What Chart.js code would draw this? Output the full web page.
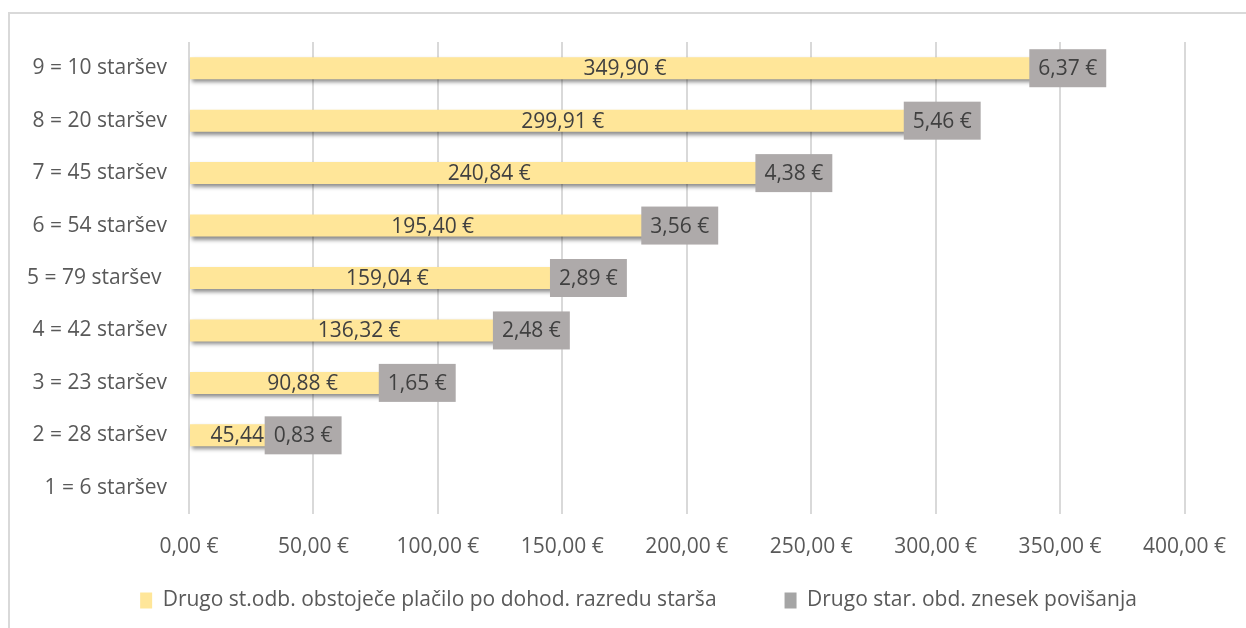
<!DOCTYPE html>
<html>
<head>
<meta charset="utf-8">
<script src="https://cdn.jsdelivr.net/npm/chart.js@4/dist/chart.umd.min.js"></script>
<style>
  body { margin: 0; background: #fff; }
  #frame { position: absolute; left: 8px; top: 12px; width: 1300px; height: 700px;
           border-left: 2px solid #d9d9d9; border-top: 2px solid #d9d9d9; }
  #wrap { position: absolute; left: 0; top: 0; width: 1246px; height: 628px; }
</style>
</head>
<body>
<div id="frame"></div>
<div id="wrap"><canvas id="barChart"></canvas></div>
<script>
// categories, top to bottom
var categories = ['9 = 10 staršev', '8 = 20 staršev', '7 = 45 staršev', '6 = 54 staršev',
  '5 = 79 staršev ', '4 = 42 staršev', '3 = 23 staršev', '2 = 28 staršev', '1 = 6 staršev'];
var existingPay = [349.90, 299.91, 240.84, 195.40, 159.04, 136.32, 90.88, 45.44, 0];
var increase = [6.37, 5.46, 4.38, 3.56, 2.89, 2.48, 1.65, 0.83, 0];
var seriesNames = ['Drugo st.odb. obstoječe plačilo po dohod. razredu starša',
  'Drugo star. obd. znesek povišanja'];
var xTicks = [0, 50, 100, 150, 200, 250, 300, 350, 400];

var FONT = '"Open Sans", sans-serif';
var textColor = '#595959';

function euro(v) {
  return v.toFixed(2).replace('.', ',') + ' €';
}

// drop shadow under the bars
var barShadow = {
  id: 'barShadow',
  beforeDatasetDraw: function (chart, args) {
    var ctx = chart.ctx;
    ctx.save();
    ctx.shadowColor = 'rgba(0,0,0,0.45)';
    ctx.shadowBlur = 4;
    ctx.shadowOffsetX = 2;
    ctx.shadowOffsetY = 3;
  },
  afterDatasetDraw: function (chart, args) {
    chart.ctx.restore();
  }
};

// legend overlaps the x axis box (big item gap), so fix things up after layout
var layoutTweaks = {
  id: 'layoutTweaks',
  afterLayout: function (chart) {
    var lg = chart.legend;
    lg.left += 45;
    lg.right += 45;
    lg.top += 2;
    lg.bottom += 2;
    // let the tick labels draw below the tiny x axis box
    chart.scales.x.bottom += 44;
    chart.scales.x.height += 44;
  }
};

// value labels: centred text on the yellow bars, grey boxes on the increase
var valueLabels = {
  id: 'valueLabels',
  afterDatasetsDraw: function (chart) {
    var ctx = chart.ctx;
    ctx.save();
    ctx.font = '21px ' + FONT;
    ctx.textAlign = 'center';
    ctx.textBaseline = 'middle';
    var m0 = chart.getDatasetMeta(0);
    m0.data.forEach(function (bar, i) {
      if (!existingPay[i]) return;
      ctx.fillStyle = '#404040';
      ctx.fillText(euro(existingPay[i]), (bar.x + bar.base) / 2, bar.y + 1);
    });
    var m1 = chart.getDatasetMeta(1);
    m1.data.forEach(function (bar, i) {
      if (!increase[i]) return;
      var txt = euro(increase[i]);
      var w = ctx.measureText(txt).width + 18;
      var h = 38;
      var cx = (bar.x + bar.base) / 2;
      ctx.fillStyle = '#aeaaaa';
      ctx.fillRect(cx - w / 2, bar.y - h / 2, w, h);
      ctx.fillStyle = '#404040';
      ctx.fillText(txt, cx, bar.y + 1);
    });
    ctx.restore();
  }
};

var ctx = document.getElementById('barChart').getContext('2d');
var chart = new Chart(ctx, {
  type: 'bar',
  data: {
    labels: categories,
    datasets: [{
      label: seriesNames[0],
      data: existingPay,
      backgroundColor: '#ffe699',
      barPercentage: 0.42,
      categoryPercentage: 1
    }, {
      label: seriesNames[1],
      data: increase,
      backgroundColor: '#a5a5a5',
      barPercentage: 0.42,
      categoryPercentage: 1
    }]
  },
  options: {
    indexAxis: 'y',
    responsive: false,
    animation: false,
    devicePixelRatio: 1,
    layout: { padding: { left: 0, right: 59, top: 42, bottom: 4 } },
    scales: {
      x: {
        stacked: true,
        min: 0,
        max: 400,
        afterBuildTicks: function (s) { s.ticks = xTicks.map(function (v) { return { value: v }; }); },
        afterFit: function (s) { s.height = 6; },
        grid: { color: '#d9d9d9', lineWidth: 2, drawTicks: false },
        border: { display: false },
        ticks: {
          padding: 20,
          color: textColor,
          font: { family: FONT, size: 21 },
          callback: function (v) { return euro(v); }
        }
      },
      y: {
        stacked: true,
        afterFit: function (s) { s.width = 189; },
        grid: { display: false, drawTicks: false },
        border: { display: false },
        ticks: {
          padding: 22,
          color: textColor,
          font: { family: FONT, size: 21 }
        }
      }
    },
    plugins: {
      legend: {
        position: 'bottom',
        labels: {
          color: textColor,
          font: { family: FONT, size: 21 },
          boxWidth: 12,
          boxHeight: 16,
          padding: 68
        }
      },
      tooltip: { enabled: false }
    }
  },
  plugins: [barShadow, layoutTweaks, valueLabels]
});
chart.resize(1246, 628);
</script>
</body>
</html>
